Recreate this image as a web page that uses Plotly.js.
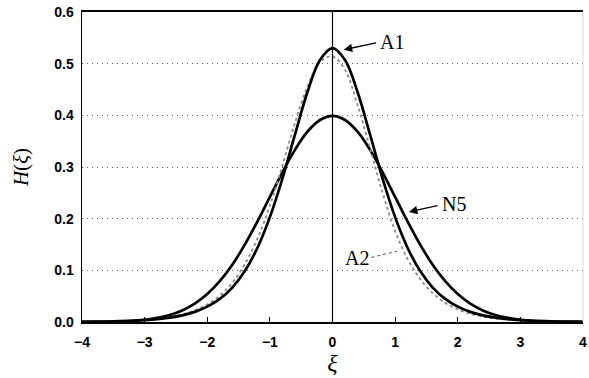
<!DOCTYPE html>
<html>
<head>
<meta charset="utf-8">
<script src="https://cdn.plot.ly/plotly-3.0.1.min.js"></script>
<style>html,body{margin:0;padding:0;background:#fff;}#chart{width:589px;height:378px;}</style>
</head>
<body>
<div id="chart"></div>
<script>
var xi = [-4.0,-3.8,-3.6,-3.4,-3.2,-3.0,-2.8,-2.6,-2.4,-2.2,-2.0,-1.8,-1.6,-1.4,-1.2,-1.0,-0.8,-0.6,-0.4,-0.2,0.0,
          0.2,0.4,0.6,0.8,1.0,1.2,1.4,1.6,1.8,2.0,2.2,2.4,2.6,2.8,3.0,3.2,3.4,3.6,3.8,4.0];
var hN5 = [0.0001,0.0003,0.0006,0.0012,0.0024,0.0044,0.0079,0.0136,0.0224,0.0355,0.0540,0.0790,0.1109,0.1497,0.1942,0.2420,0.2897,0.3332,0.3683,0.3910,0.3989,
           0.3910,0.3683,0.3332,0.2897,0.2420,0.1942,0.1497,0.1109,0.0790,0.0540,0.0355,0.0224,0.0136,0.0079,0.0044,0.0024,0.0012,0.0006,0.0003,0.0001];
var hA1 = [0.0004,0.0007,0.0010,0.0016,0.0024,0.0037,0.0056,0.0085,0.0129,0.0196,0.0297,0.0447,0.0667,0.0986,0.1432,0.2030,0.2776,0.3625,0.4451,0.5069,0.5300,
           0.5069,0.4451,0.3625,0.2776,0.2030,0.1432,0.0986,0.0667,0.0447,0.0297,0.0196,0.0129,0.0085,0.0056,0.0037,0.0024,0.0016,0.0010,0.0007,0.0004];
var hA2 = [0.0005,0.0008,0.0012,0.0018,0.0028,0.0042,0.0063,0.0097,0.0148,0.0226,0.0340,0.0510,0.0760,0.1120,0.1610,0.2250,0.3030,0.3850,0.4560,0.5030,0.5140,
           0.4880,0.4200,0.3360,0.2500,0.1760,0.1220,0.0830,0.0560,0.0370,0.0245,0.0160,0.0105,0.0069,0.0045,0.0030,0.0020,0.0013,0.0009,0.0006,0.0004];
var xTicks = [-4,-3,-2,-1,0,1,2,3,4];
var yTicks = [0,0.1,0.2,0.3,0.4,0.5,0.6];

var traces = [
  {x: xi, y: hN5, mode: 'lines', line: {color: '#000', width: 2.7, shape: 'spline'}, name: 'N5'},
  {x: xi, y: hA2, mode: 'lines', line: {color: '#8a8a8a', width: 1.8, shape: 'spline', dash: 'dot'}, name: 'A2'},
  {x: xi, y: hA1, mode: 'lines', line: {color: '#000', width: 2.7, shape: 'spline'}, name: 'A1'}
];

var tickFont = {family: 'Liberation Sans, Arial, sans-serif', size: 14, color: '#000', weight: 'bold'};
var serif = 'Liberation Serif, Times New Roman, serif';

var layout = {
  width: 589, height: 378,
  margin: {l: 82, r: 6, t: 12, b: 56},
  paper_bgcolor: '#fff', plot_bgcolor: '#fff',
  showlegend: false,
  xaxis: {
    range: [-4, 4], tickvals: xTicks, ticktext: xTicks.map(function(v){return v < 0 ? '\u2212' + (-v) : String(v);}),
    ticks: 'inside', ticklen: 5, tickwidth: 1, tickcolor: '#000', ticklabelstandoff: 6,
    ticklabeloverflow: 'allow',
    showgrid: false, zeroline: false,
    showline: true, linecolor: '#000', linewidth: 2, mirror: true,
    tickfont: tickFont,
    title: {text: '<i>\u03be</i>', font: {family: serif, size: 24, color: '#000'}, standoff: 3}
  },
  yaxis: {
    range: [0, 0.6], tickvals: yTicks, tickformat: '.1f',
    ticks: '', showgrid: true, gridcolor: '#666', gridwidth: 1, griddash: '1px,4px',
    zeroline: false, showline: true, linecolor: '#000', linewidth: 1.5,
    tickfont: tickFont, ticklabelstandoff: 4,
    title: {text: '<i>H</i>(<i>\u03be</i>)', font: {family: serif, size: 21, color: '#000'}, standoff: 20}
  },
  shapes: [
    {type: 'line', xref: 'x', yref: 'y', x0: 0, x1: 0, y0: 0, y1: 0.6, line: {color: '#000', width: 1.2}},
    {type: 'line', xref: 'paper', yref: 'paper', x0: 1, x1: 1, y0: 0, y1: 1, line: {color: '#ddd', width: 1}},
    {type: 'line', xref: 'x', yref: 'y', x0: 0.62, x1: 1.03, y0: 0.125, y1: 0.137, line: {color: '#555', width: 1, dash: 'dot'}}
  ],
  annotations: [
    {x: 0.18, y: 0.527, ax: 0.72, ay: 0.541, xref: 'x', yref: 'y', axref: 'x', ayref: 'y',
     text: '', showarrow: true, arrowhead: 2, arrowsize: 1.3, arrowwidth: 1.3, arrowcolor: '#000'},
    {x: 0.72, y: 0.541, xref: 'x', yref: 'y', text: 'A1', showarrow: false, xanchor: 'left', yanchor: 'middle',
     font: {family: serif, size: 20, color: '#000'}},
    {x: 1.22, y: 0.213, ax: 1.7, ay: 0.226, xref: 'x', yref: 'y', axref: 'x', ayref: 'y',
     text: '', showarrow: true, arrowhead: 2, arrowsize: 1.3, arrowwidth: 1.3, arrowcolor: '#000'},
    {x: 1.72, y: 0.228, xref: 'x', yref: 'y', text: 'N5', showarrow: false, xanchor: 'left', yanchor: 'middle',
     font: {family: serif, size: 20, color: '#000'}},
    {x: 0.61, y: 0.124, xref: 'x', yref: 'y', text: 'A2', showarrow: false, xanchor: 'right', yanchor: 'middle',
     font: {family: serif, size: 20, color: '#000'}}
  ]
};

Plotly.newPlot('chart', traces, layout, {displayModeBar: false, staticPlot: true});
</script>
</body>
</html>
